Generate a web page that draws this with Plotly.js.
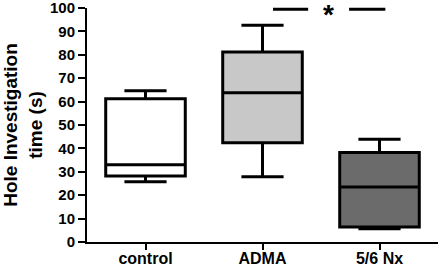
<!DOCTYPE html>
<html>
<head>
<meta charset="utf-8">
<script src="https://cdn.plot.ly/plotly-3.0.1.min.js"></script>
<style>html,body{margin:0;padding:0;background:#fff}#chart{width:440px;height:267px}</style>
</head>
<body>
<div id="chart"></div>
<script>
const categories = ["control", "ADMA", "5/6 Nx"];
const lowerWhisker = [25.8, 27.9, 5.7];
const q1Values = [28.2, 42.4, 6.4];
const medianValues = [33.0, 63.8, 23.5];
const q3Values = [61.2, 81.2, 38.2];
const upperWhisker = [64.6, 92.6, 43.9];
const fillColors = ["#ffffff", "#c8c8c8", "#6b6b6b"];
const yTicks = [0, 10, 20, 30, 40, 50, 60, 70, 80, 90, 100];

const font = "Liberation Sans, Arial, sans-serif";

const traces = categories.map((c, i) => ({
  type: "box",
  x: [c],
  q1: [q1Values[i]],
  median: [medianValues[i]],
  q3: [q3Values[i]],
  lowerfence: [lowerWhisker[i]],
  upperfence: [upperWhisker[i]],
  fillcolor: fillColors[i],
  line: {color: "#000", width: 3},
  width: 0.68,
  whiskerwidth: 0.53,
  boxpoints: false,
  hoverinfo: "skip",
  showlegend: false
}));

const layout = {
  width: 440, height: 267,
  margin: {l: 87, r: 2, t: 8, b: 25},
  paper_bgcolor: "#fff", plot_bgcolor: "#fff",
  boxmode: "overlay",
  showlegend: false,
  xaxis: {
    type: "category",
    categoryarray: categories,
    range: [-0.5, 2.5],
    showline: true, linecolor: "#000", linewidth: 2,
    ticks: "outside", ticklen: 6, tickwidth: 2, tickcolor: "#000",
    ticklabelstandoff: -5,
    ticklabeloverflow: "allow",
    showgrid: false, zeroline: false,
    tickfont: {family: font, size: 16, color: "#000", weight: "bold"}
  },
  yaxis: {
    range: [0, 100],
    tickmode: "array",
    tickvals: yTicks,
    ticktext: yTicks.map(String),
    ticklabeloverflow: "allow",
    showline: true, linecolor: "#000", linewidth: 2,
    ticks: "outside", ticklen: 7, tickwidth: 2, tickcolor: "#000",
    showgrid: false, zeroline: false,
    tickfont: {family: font, size: 15, color: "#000", weight: "bold"},
    title: {text: "Hole Investigation<br>time (s)", standoff: 8,
            font: {family: font, size: 19, color: "#000", weight: "bold"}}
  },
  shapes: [
    {type: "line", xref: "x", yref: "paper", x0: 1.09, x1: 1.39, y0: 0.995, y1: 0.995, line: {color: "#000", width: 3}},
    {type: "line", xref: "x", yref: "paper", x0: 1.74, x1: 2.05, y0: 0.995, y1: 0.995, line: {color: "#000", width: 3}}
  ],
  annotations: [
    {xref: "x", yref: "paper", x: 1.564, y: 0.974, text: "*", showarrow: false,
     xanchor: "center", yanchor: "middle",
     font: {family: font, size: 28, color: "#000", weight: "bold"}}
  ]
};

Plotly.newPlot("chart", traces, layout, {staticPlot: true, displayModeBar: false});
</script>
</body>
</html>
